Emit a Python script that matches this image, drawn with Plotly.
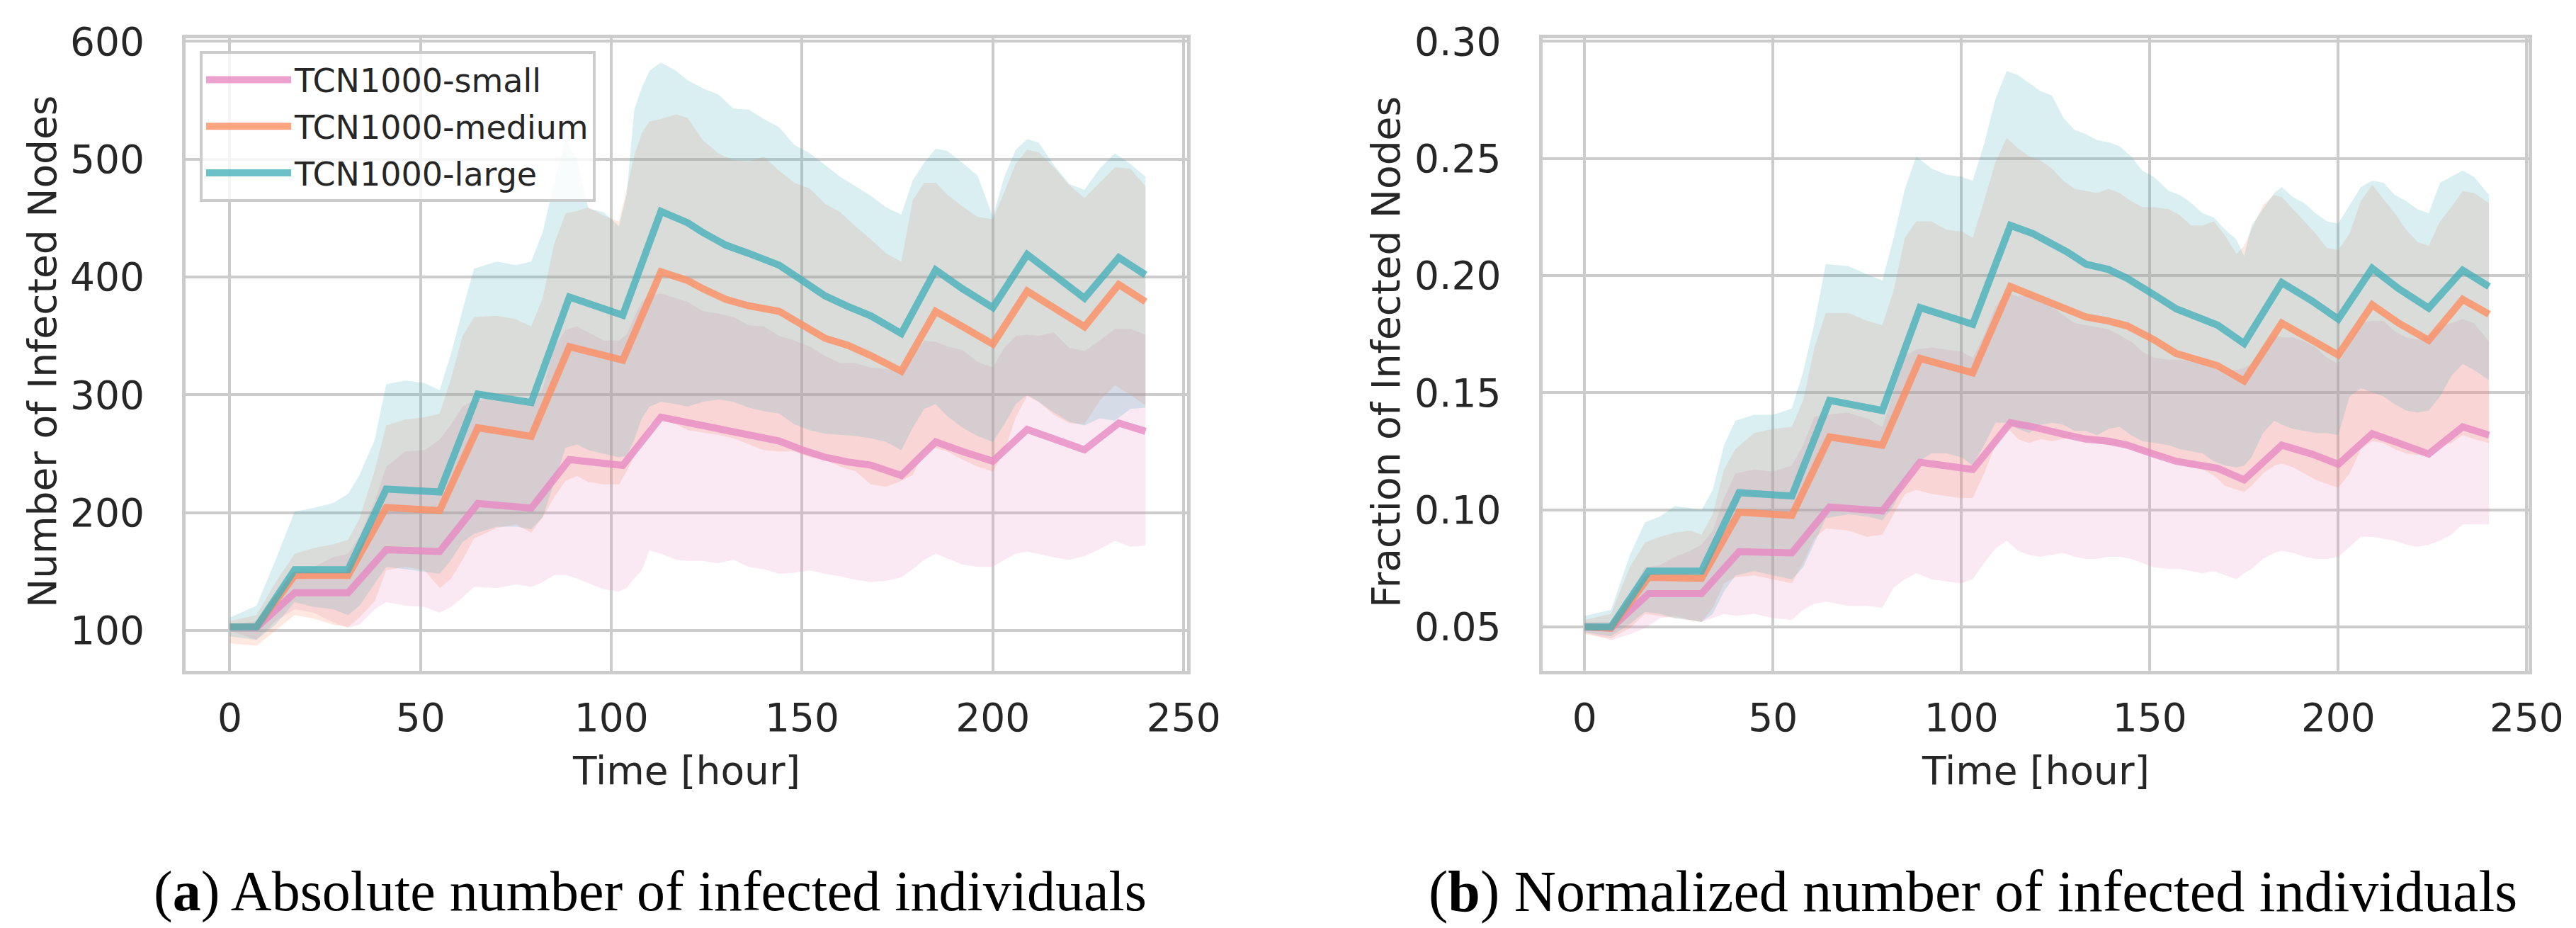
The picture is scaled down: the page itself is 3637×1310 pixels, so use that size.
import plotly.graph_objects as go

W, H = 3637, 1310

# ---------------- panel (a): absolute number ----------------
T_MEAN_A = [0, 7, 17, 31, 41, 55, 65, 79, 89, 103, 113, 116, 120, 124, 130, 136, 144, 150, 156, 162,
            168, 176, 185, 192, 200, 209, 216, 224, 233, 240]
SMALL_MEAN_A = [103, 102.6, 132, 132, 168.5, 167, 207.7, 203.8, 245, 240, 281, 279, 277, 273, 269, 264.8,
                260.8, 253.3, 247, 243, 240.3, 231.5, 260, 252, 243.6, 270.6, 263, 253.3, 276, 269]
MEDIUM_MEAN_A = [103, 103, 146.7, 146.7, 204.4, 201.8, 272, 264.8, 340.8, 329.4, 404.4, 401, 397, 390, 381,
                 375.5, 370.8, 359.4, 348, 342, 333.3, 320, 370.8, 358, 343, 388, 374, 357.7, 393.6, 379]
LARGE_MEAN_A = [103, 103, 151.5, 151.5, 220, 217.5, 300.6, 293.5, 383, 367.5, 455.6, 451, 446, 437.7, 427,
                420, 410, 397, 384, 375, 367, 352, 406, 390, 374, 419, 402, 382, 416.5, 401.8]

T_BAND_A = [0, 7, 12, 17, 22, 27, 31, 34, 38, 41, 46, 51, 55, 58, 61, 64, 70, 75, 79, 82,
            85, 88, 91, 94, 98, 102, 104, 106, 108, 110, 113, 117, 120, 124, 128, 132, 136, 140, 144, 148,
            152, 156, 160, 164, 168, 172, 176, 179, 182, 185, 188, 192, 196, 200, 203, 206, 209, 212, 216, 220,
            224, 228, 232, 236, 240]
SMALL_LO_A = [100, 92, 108, 118, 115, 107, 102, 105, 118, 124, 121, 120, 115, 120, 128, 137, 136, 139, 137, 141,
              147, 147, 144, 140, 135, 133, 136, 144, 151, 168, 165, 160, 159, 159, 157, 160, 154, 152, 148, 149,
              151, 148, 146, 143, 141, 142, 145, 152, 160, 165, 161, 156, 154, 154, 160, 165, 167, 165, 162, 160,
              163, 169, 176, 171, 172]
SMALL_HI_A = [105, 108, 124, 150, 154, 162, 165, 180, 210, 239, 252, 253, 262, 275, 290, 295, 298, 294, 290, 305,
              340, 355, 358, 353, 346, 346, 351, 366, 379, 384, 386, 382, 379, 371, 369, 366, 359, 358, 350, 346,
              341, 333, 327, 327, 323, 322, 320, 333, 346, 345, 341, 338, 328, 323, 340, 350, 351, 350, 353, 340,
              337, 346, 356, 356, 351]
MEDIUM_LO_A = [89, 87, 100, 113, 110, 105, 103, 111, 125, 151, 154, 151, 136, 144, 160, 178, 187, 190, 183, 196,
               213, 227, 231, 226, 224, 224, 235, 248, 262, 275, 279, 275, 270, 268, 266, 263, 258, 253, 252, 252,
               247, 245, 239, 235, 224, 222, 227, 232, 252, 255, 252, 245, 239, 235, 252, 281, 299, 294, 283, 276,
               275, 295, 308, 300, 291]
MEDIUM_HI_A = [108, 113, 141, 165, 170, 173, 177, 195, 236, 274, 279, 281, 284, 314, 350, 366, 367, 364, 358, 382,
               428, 454, 456, 459, 452, 447, 474, 503, 522, 532, 534, 538, 535, 516, 505, 499, 498, 502, 490, 480,
               475, 462, 455, 443, 432, 420, 413, 465, 480, 480, 470, 460, 451, 449, 472, 496, 508, 506, 493, 478,
               467, 480, 493, 492, 477]
LARGE_LO_A = [95, 92, 105, 124, 120, 118, 113, 121, 140, 154, 152, 150, 148, 160, 175, 182, 188, 188, 186, 196,
              225, 255, 258, 253, 250, 247, 248, 262, 280, 290, 294, 292, 290, 294, 296, 294, 289, 286, 284, 275,
              270, 267, 266, 265, 263, 260, 253, 272, 288, 292, 282, 272, 265, 260, 275, 292, 300, 294, 285, 277,
              274, 280, 278, 288, 289]
LARGE_HI_A = [111, 121, 160, 201, 204, 208, 216, 232, 262, 309, 312, 310, 304, 335, 372, 407, 413, 410, 413, 438,
              480, 517, 500, 458, 455, 443, 470, 542, 561, 575, 582, 575, 567, 560, 555, 543, 542, 534, 527, 512,
              505, 495, 485, 477, 469, 459, 453, 482, 497, 509, 507, 497, 486, 451, 485, 508, 517, 514, 495, 479,
              474, 492, 505, 496, 485]

# ---------------- panel (b): normalized ----------------
T_MEAN_B = [0, 7, 17, 31, 41, 55, 65, 79, 89, 103, 113, 119, 128, 133, 139, 144, 151, 157, 168, 175,
            185, 193, 200, 209, 216, 224, 233, 240]
SMALL_MEAN_B = [0.050, 0.0495, 0.0642, 0.0642, 0.0821, 0.0816, 0.1012, 0.0995, 0.1203, 0.1172,
                0.1372, 0.1354, 0.1319, 0.1302, 0.1293, 0.1276, 0.1238, 0.1207, 0.1177, 0.1128,
                0.1276, 0.1238, 0.1194, 0.1325, 0.1285, 0.1238, 0.1354, 0.1319]
MEDIUM_MEAN_B = [0.050, 0.0495, 0.0712, 0.0707, 0.099, 0.0976, 0.1311, 0.1276, 0.1646, 0.1585,
                 0.1953, 0.1915, 0.1858, 0.1823, 0.1806, 0.1785, 0.1727, 0.1667, 0.1615, 0.1550,
                 0.1797, 0.1727, 0.1661, 0.1875, 0.1797, 0.1724, 0.1898, 0.1835]
LARGE_MEAN_B = [0.050, 0.050, 0.0738, 0.0738, 0.1073, 0.1059, 0.1467, 0.1424, 0.1863, 0.1792,
                0.2214, 0.2179, 0.2101, 0.2049, 0.2026, 0.1988, 0.1919, 0.1858, 0.1788, 0.1710,
                0.1970, 0.1892, 0.1814, 0.2031, 0.1944, 0.1861, 0.2023, 0.1953]

T_BAND_B = [0, 7, 12, 16, 20, 24, 28, 31, 34, 37, 40, 45, 50, 55, 58, 61, 64, 70, 75, 79,
            82, 85, 88, 92, 96, 100, 103, 106, 109, 112, 115, 118, 121, 124, 127, 130, 133, 136, 139, 142,
            145, 148, 151, 155, 158, 161, 164, 167, 170, 173, 175, 177, 180, 183, 185, 188, 191, 194, 197, 200,
            203, 206, 209, 212, 215, 218, 221, 224, 227, 230, 233, 236, 240]
SMALL_LO_B = [0.0477, 0.0443, 0.0469, 0.0495, 0.0538, 0.0547, 0.053, 0.0521, 0.0538, 0.0556,
              0.0547, 0.0556, 0.0538, 0.053, 0.0573, 0.0599, 0.0608, 0.059, 0.059, 0.0582,
              0.0668, 0.0703, 0.0729, 0.0703, 0.0694, 0.0686, 0.0703, 0.0773, 0.0833, 0.0868,
              0.0825, 0.0807, 0.0799, 0.0807, 0.0816, 0.0799, 0.079, 0.079, 0.0799, 0.0799,
              0.079, 0.0773, 0.0755, 0.0747, 0.0747, 0.0738, 0.0729, 0.0738, 0.072, 0.0703,
              0.0729, 0.0747, 0.079, 0.0816, 0.0825, 0.0816, 0.0799, 0.079, 0.079, 0.0799,
              0.0842, 0.0885, 0.0885, 0.0877, 0.0868, 0.0851, 0.0842, 0.0851, 0.0868, 0.0894,
              0.0938, 0.0938, 0.0938]
SMALL_HI_B = [0.0521, 0.0521, 0.0634, 0.0755, 0.0764, 0.0799, 0.0825, 0.0851, 0.0911, 0.105,
              0.1155, 0.1172, 0.1163, 0.1189, 0.1276, 0.1398, 0.1406, 0.1415, 0.1389, 0.1354,
              0.1502, 0.1658, 0.1684, 0.1693, 0.1684, 0.1675, 0.1649, 0.1745, 0.1866, 0.1927,
              0.191, 0.1918, 0.1884, 0.1866, 0.1832, 0.1797, 0.1788, 0.178, 0.1771, 0.1745,
              0.1719, 0.1675, 0.1649, 0.1641, 0.1641, 0.1632, 0.1623, 0.1606, 0.1597, 0.1597,
              0.1606, 0.1623, 0.1693, 0.1745, 0.1736, 0.1736, 0.1719, 0.1693, 0.1649, 0.1623,
              0.171, 0.1797, 0.1806, 0.1806, 0.1762, 0.1736, 0.1727, 0.1745, 0.178, 0.1797,
              0.1814, 0.1797, 0.1719]
MEDIUM_LO_B = [0.0469, 0.0451, 0.0495, 0.0556, 0.0547, 0.0538, 0.053, 0.0521, 0.0582, 0.0686,
               0.0712, 0.072, 0.0703, 0.0686, 0.0773, 0.0877, 0.092, 0.0911, 0.0885, 0.0894,
               0.0981, 0.1068, 0.1085, 0.1068, 0.1059, 0.105, 0.105, 0.1155, 0.1276, 0.1354,
               0.1302, 0.1285, 0.1302, 0.1293, 0.1302, 0.1311, 0.1302, 0.1285, 0.1276, 0.1276,
               0.1259, 0.1241, 0.1233, 0.1215, 0.1198, 0.1181, 0.1172, 0.1146, 0.1102, 0.1085,
               0.1076, 0.1102, 0.1155, 0.1189, 0.1198, 0.1181, 0.1155, 0.1128, 0.1111, 0.1094,
               0.1155, 0.1259, 0.1293, 0.1285, 0.1259, 0.1241, 0.1233, 0.1241, 0.1276, 0.1285,
               0.1319, 0.1302, 0.1285]
MEDIUM_HI_B = [0.053, 0.0556, 0.0755, 0.086, 0.0885, 0.0903, 0.0911, 0.0894, 0.0981, 0.1172,
               0.1259, 0.1328, 0.1345, 0.1354, 0.1467, 0.1693, 0.184, 0.184, 0.1806, 0.1788,
               0.1936, 0.2161, 0.2231, 0.2231, 0.2196, 0.2188, 0.2161, 0.2318, 0.2483, 0.2587,
               0.2543, 0.2509, 0.2491, 0.2457, 0.2405, 0.237, 0.2361, 0.2352, 0.237, 0.2352,
               0.2318, 0.2292, 0.2292, 0.2283, 0.2257, 0.2214, 0.2214, 0.2231, 0.217, 0.2092,
               0.2127, 0.2196, 0.23, 0.2344, 0.2335, 0.2283, 0.2231, 0.2179, 0.2118, 0.2109,
               0.2179, 0.2318, 0.2387, 0.2326, 0.2266, 0.2196, 0.2144, 0.2127, 0.2231, 0.2292,
               0.2361, 0.2352, 0.2309]
LARGE_LO_B = [0.0477, 0.046, 0.0512, 0.0564, 0.0556, 0.0538, 0.053, 0.0521, 0.0556, 0.0651,
              0.072, 0.0738, 0.072, 0.0703, 0.0755, 0.0859, 0.0964, 0.0981, 0.0972, 0.0955,
              0.1016, 0.1128, 0.1198, 0.1241, 0.1241, 0.1224, 0.1189, 0.1276, 0.1372, 0.1372,
              0.1345, 0.1328, 0.1363, 0.1372, 0.1363, 0.1337, 0.1337, 0.1319, 0.1345, 0.1354,
              0.1319, 0.1293, 0.1285, 0.1276, 0.1259, 0.125, 0.1241, 0.1207, 0.1189, 0.1181,
              0.1189, 0.1224, 0.1328, 0.138, 0.1363, 0.1345, 0.1337, 0.1328, 0.1328, 0.1319,
              0.1484, 0.1519, 0.1502, 0.1484, 0.145, 0.1424, 0.1415, 0.1424, 0.1484, 0.1571,
              0.1623, 0.1597, 0.1554]
LARGE_HI_B = [0.0547, 0.0573, 0.0807, 0.0946, 0.0972, 0.1016, 0.1007, 0.0998, 0.1085, 0.1276,
              0.138, 0.1406, 0.1406, 0.1432, 0.1589, 0.1797, 0.2049, 0.204, 0.2005, 0.1979,
              0.2161, 0.237, 0.2509, 0.2457, 0.2431, 0.2422, 0.2405, 0.2561, 0.2752, 0.2873,
              0.2856, 0.2821, 0.2787, 0.2769, 0.2674, 0.2622, 0.2604, 0.2578, 0.2569, 0.2552,
              0.2509, 0.2448, 0.2422, 0.2361, 0.2344, 0.2309, 0.2266, 0.2248, 0.2196, 0.2153,
              0.2083, 0.2214, 0.2283, 0.2352, 0.2378, 0.2335, 0.2309, 0.2266, 0.2231, 0.2222,
              0.23, 0.2378, 0.2405, 0.2396, 0.2344, 0.2318, 0.2283, 0.2266, 0.2396, 0.2422,
              0.2448, 0.2422, 0.2344]

SERIES = ["TCN1000-small", "TCN1000-medium", "TCN1000-large"]
X_TICKS = [0, 50, 100, 150, 200, 250]
Y_TICKS_A = [100, 200, 300, 400, 500, 600]
Y_TICKS_B = [0.05, 0.10, 0.15, 0.20, 0.25, 0.30]

# ---------------- styling ----------------
COLORS = [(231, 138, 195), (252, 141, 98), (71, 176, 186)]
FILL_ALPHA = 0.2
LINE_ALPHA = 0.8
GRID = "#cccccc"
TXT = "#262626"
SANS = "DejaVu Sans"
SERIF = "Liberation Serif"


def rgba(c, a):
    return f"rgba({c[0]},{c[1]},{c[2]},{a})"


fig = go.Figure()

panels = [
    ("x", "y", T_BAND_A, [(SMALL_LO_A, SMALL_HI_A), (MEDIUM_LO_A, MEDIUM_HI_A), (LARGE_LO_A, LARGE_HI_A)],
     T_MEAN_A, [SMALL_MEAN_A, MEDIUM_MEAN_A, LARGE_MEAN_A], True),
    ("x2", "y2", T_BAND_B, [(SMALL_LO_B, SMALL_HI_B), (MEDIUM_LO_B, MEDIUM_HI_B), (LARGE_LO_B, LARGE_HI_B)],
     T_MEAN_B, [SMALL_MEAN_B, MEDIUM_MEAN_B, LARGE_MEAN_B], False),
]

for xa, ya, tb, bands, tm, means, legend in panels:
    for i, (lo, hi) in enumerate(bands):
        fig.add_trace(go.Scatter(x=tb, y=lo, xaxis=xa, yaxis=ya, mode="lines",
                                 line=dict(width=0, color=rgba(COLORS[i], 0)),
                                 showlegend=False, hoverinfo="skip", legendgroup=SERIES[i]))
        fig.add_trace(go.Scatter(x=tb, y=hi, xaxis=xa, yaxis=ya, mode="lines", fill="tonexty",
                                 fillcolor=rgba(COLORS[i], FILL_ALPHA),
                                 line=dict(width=0, color=rgba(COLORS[i], 0)),
                                 showlegend=False, hoverinfo="skip", legendgroup=SERIES[i]))
    for i, m in enumerate(means):
        fig.add_trace(go.Scatter(x=tm, y=m, xaxis=xa, yaxis=ya, mode="lines", name=SERIES[i],
                                 line=dict(width=10, color=rgba(COLORS[i], LINE_ALPHA)),
                                 showlegend=legend, legendgroup=SERIES[i]))

# plot-area geometry (pixels)
TOP_PX, BOT_PX = 54, 946.5
A_L, A_R = 262, 1676
B_L, B_R = 2177.5, 3569.5

axis_common = dict(showgrid=True, gridcolor=GRID, gridwidth=4, showline=True, linecolor=GRID,
                   linewidth=5, mirror=True, zeroline=False, ticks="outside", automargin=False,
                   tickcolor="rgba(0,0,0,0)", tickfont=dict(family=SANS, size=55, color=TXT))

fig.update_layout(
    width=W, height=H, margin=dict(l=0, r=0, t=0, b=0, pad=0),
    paper_bgcolor="white", plot_bgcolor="white",
    xaxis=dict(domain=[A_L / W, A_R / W], range=[-11.6, 250.9], tickvals=X_TICKS, anchor="y",
               ticklen=14, **axis_common),
    yaxis=dict(domain=[1 - BOT_PX / H, 1 - TOP_PX / H], range=[66, 602.6], tickvals=Y_TICKS_A,
               anchor="x", ticklen=42, **axis_common),
    xaxis2=dict(domain=[B_L / W, B_R / W], range=[-11.24, 250.4], tickvals=X_TICKS, anchor="y2",
                ticklen=14, **axis_common),
    yaxis2=dict(domain=[1 - BOT_PX / H, 1 - TOP_PX / H], range=[0.0314, 0.30129], tickvals=Y_TICKS_B,
                tickformat=".2f", anchor="x2", ticklen=42, **axis_common),
    legend=dict(x=282 / W, y=1 - 72 / H, xanchor="left", yanchor="top",
                bgcolor="rgba(255,255,255,0.8)", bordercolor=GRID, borderwidth=4,
                font=dict(family=SANS, size=46, color=TXT), itemwidth=120, tracegroupgap=3),
    showlegend=True,
)

ann = []
# axis titles
ann.append(dict(text="Number of Infected Nodes", x=60 / W, y=1 - 497 / H, xref="paper", yref="paper",
                textangle=-90, showarrow=False, xanchor="center", yanchor="middle",
                font=dict(family=SANS, size=55, color=TXT)))
ann.append(dict(text="Fraction of Infected Nodes", x=1957 / W, y=1 - 497 / H, xref="paper", yref="paper",
                textangle=-90, showarrow=False, xanchor="center", yanchor="middle",
                font=dict(family=SANS, size=55, color=TXT)))
ann.append(dict(text="Time [hour]", x=(A_L + A_R) / 2 / W, y=1 - 1088 / H, xref="paper", yref="paper",
                showarrow=False, xanchor="center", yanchor="middle",
                font=dict(family=SANS, size=55, color=TXT)))
ann.append(dict(text="Time [hour]", x=(B_L + B_R) / 2 / W, y=1 - 1088 / H, xref="paper", yref="paper",
                showarrow=False, xanchor="center", yanchor="middle",
                font=dict(family=SANS, size=55, color=TXT)))
# captions
ann.append(dict(text="(<b>a</b>) Absolute number of infected individuals", x=918 / W, y=1 - 1258 / H,
                xref="paper", yref="paper", showarrow=False, xanchor="center", yanchor="middle",
                font=dict(family=SERIF, size=80, color="black")))
ann.append(dict(text="(<b>b</b>) Normalized number of infected individuals", x=2785 / W, y=1 - 1258 / H,
                xref="paper", yref="paper", showarrow=False, xanchor="center", yanchor="middle",
                font=dict(family=SERIF, size=82, color="black")))
fig.update_layout(annotations=ann)

fig.write_html("out.html", config={"displayModeBar": False},
               post_script="document.body.style.margin='0';document.body.style.overflow='hidden';")
